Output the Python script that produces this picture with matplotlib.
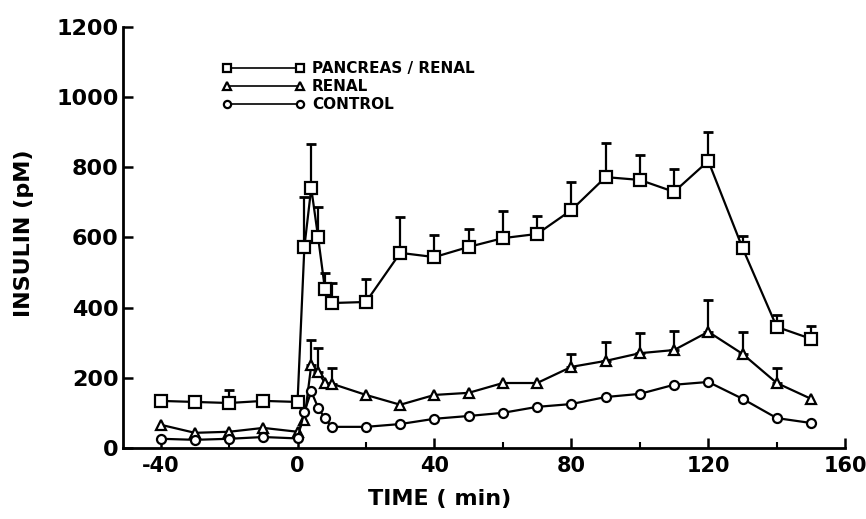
import matplotlib
matplotlib.use("Agg")
import matplotlib.pyplot as plt
import numpy as np
from matplotlib.ticker import MultipleLocator

times = [-40, -30, -20, -10, 0, 2, 4, 6, 8, 10, 20, 30, 40, 50, 60, 70, 80, 90, 100, 110, 120, 130, 140, 150]

pancreas_renal = [134, 131, 128, 134, 131, 573, 741, 601, 453, 413, 416, 556, 544, 573, 598, 610, 678, 772, 764, 730, 818, 570, 345, 311]
pancreas_renal_err = [0, 0, 37, 0, 0, 142, 125, 86, 46, 57, 66, 102, 63, 51, 77, 51, 80, 97, 71, 65, 83, 34, 34, 37]

renal = [66, 43, 46, 57, 46, 80, 236, 217, 185, 183, 151, 123, 151, 157, 185, 185, 231, 248, 270, 279, 331, 268, 185, 140]
renal_err = [0, 0, 0, 0, 0, 0, 72, 69, 0, 45, 0, 0, 0, 0, 0, 0, 37, 54, 58, 54, 91, 63, 43, 0]

control = [26, 23, 26, 31, 27, 103, 161, 115, 84, 60, 60, 68, 83, 91, 100, 117, 125, 145, 154, 180, 188, 140, 85, 71]

labels = ["PANCREAS / RENAL", "RENAL", "CONTROL"]
x_ticks = [-40, 0, 40, 80, 120, 160]
x_tick_labels = ["-40", "0", "40", "80", "120", "160"]
y_ticks = [0, 200, 400, 600, 800, 1000, 1200]

plt.rcParams['font.family'] = ['DejaVu Sans']

fig = plt.figure(figsize=(8.66, 5.19), dpi=100)
ax = fig.add_axes([0.142, 0.137, 0.834, 0.811])

lw = 1.6
series = [
    (pancreas_renal, pancreas_renal_err, 's', 8, labels[0]),
    (renal, renal_err, '^', 7.5, labels[1]),
    (control, None, 'o', 6.5, labels[2]),
]
handles = []
for vals, err, mk, ms, lab in series:
    if err is not None:
        e = np.array(err, dtype=float)
        lower = np.zeros_like(e)
        mask = e > 0
        ax.errorbar(np.array(times)[mask], np.array(vals)[mask],
                    yerr=[lower[mask], e[mask]], fmt='none', ecolor='black',
                    elinewidth=1.6, capsize=3.5, capthick=2, zorder=2)
    h, = ax.plot(times, vals, color='black', lw=lw, marker=mk, ms=ms,
                 mfc='white', mec='black', mew=1.6, zorder=3, label=lab)
    handles.append(h)

ax.set_xlim(-51, 160)
ax.set_ylim(0, 1200)
ax.set_xticks(x_ticks)
ax.set_xticklabels(x_tick_labels)
ax.set_yticks(y_ticks)
ax.xaxis.set_minor_locator(MultipleLocator(20))
for s in ['top', 'right']:
    ax.spines[s].set_visible(False)
for s in ['left', 'bottom']:
    ax.spines[s].set_linewidth(2)
ax.tick_params(axis='both', which='major', direction='in', length=7, width=1.8,
               labelsize=16, pad=6)
ax.tick_params(axis='x', which='major', labelsize=15)
ax.tick_params(axis='x', which='minor', direction='in', length=4, width=1.5)
ax.tick_params(axis='y', pad=3)
for t in ax.get_xticklabels() + ax.get_yticklabels():
    t.set_fontweight('bold')

ax.set_xlabel("TIME ( min)", fontsize=16, fontweight='bold', labelpad=6)
ax.xaxis.set_label_coords(0.439, -0.098)
ax.set_ylabel("INSULIN (pM)", fontsize=16, fontweight='bold', labelpad=10)
ax.yaxis.set_label_coords(-0.123, 0.51)

leg = ax.legend(handles=handles, loc='upper left', bbox_to_anchor=(0.118, 0.952),
                numpoints=2, handlelength=5.4, frameon=False,
                prop={'size': 11, 'weight': 'bold'}, labelspacing=0.2,
                handletextpad=0.5, markerscale=0.8)
for l in leg.get_lines():
    l.set_linewidth(1.2)

fig.savefig("out.png", dpi=100)
